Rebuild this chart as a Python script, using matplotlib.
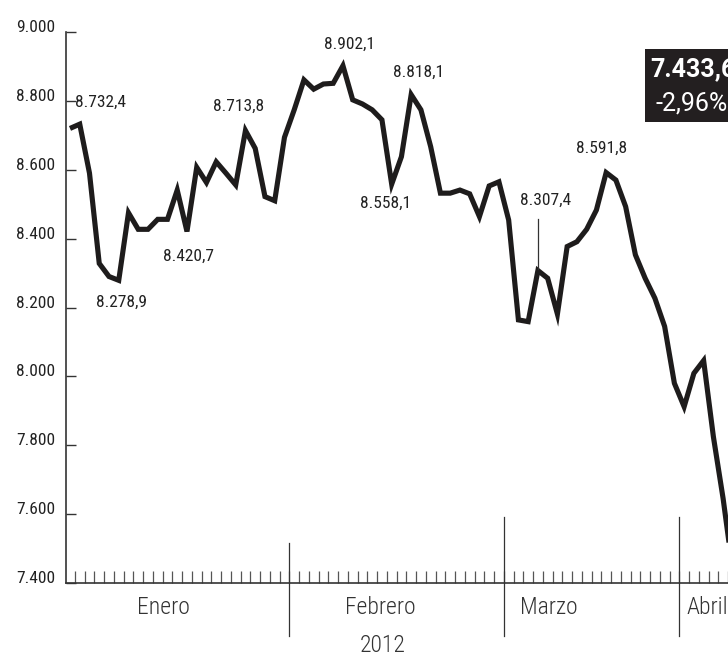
import matplotlib
matplotlib.use("Agg")
import matplotlib.pyplot as plt
from matplotlib.patches import Rectangle
import matplotlib.transforms as mtransforms

FAM = ['Roboto Condensed', 'Liberation Sans Narrow', 'DejaVu Sans Condensed', 'Roboto', 'DejaVu Sans']
BOXFAM = ['Roboto', 'DejaVu Sans']
plt.rcParams['font.family'] = FAM

# ---------------- data ----------------
values = [8720, 8732.4, 8590, 8328, 8290, 8278.9, 8475, 8427, 8427, 8456, 8456, 8541,
          8420.7, 8607, 8563, 8623, 8590, 8556, 8713.8, 8662, 8522, 8510, 8694, 8774,
          8861, 8834, 8849, 8851, 8902.1, 8803, 8791, 8774, 8745, 8558.1, 8638, 8818.1,
          8774, 8667, 8532, 8532, 8541, 8530, 8464, 8553, 8565, 8454, 8164, 8159,
          8307.4, 8285, 8181, 8377, 8391, 8427, 8483, 8591.8, 8570, 8493, 8353, 8285,
          8227, 8145, 7980, 7912, 8009, 8046, 7825, 7645, 7433.6]
months = ['Enero', 'Febrero', 'Marzo', 'Abril']
month_breaks = [22.5, 44.5, 62.5]
year_label = '2012'
y_ticks = [7400, 7600, 7800, 8000, 8200, 8400, 8600, 8800, 9000]
y_ticklabels = ['7.400', '7.600', '7.800', '8.000', '8.200', '8.400', '8.600', '8.800', '9.000']
annot_idx = [1, 5, 12, 18, 28, 33, 35, 48, 55]
annot_txt = ['8.732,4', '8.278,9', '8.420,7', '8.713,8', '8.902,1', '8.558,1', '8.818,1', '8.307,4', '8.591,8']
last_value = '7.433,6'
last_change = '-2,96%'

# ---------------- figure ----------------
W, H = 728, 657
fig = plt.figure(figsize=(W / 100, H / 100), dpi=100)
ax = fig.add_axes([66 / W, (H - 583) / H, (W - 66) / W, 551 / H])

x = list(range(len(values)))
ax.plot(x, values, color='#1e1c1c', lw=3.7, solid_joinstyle='miter', solid_capstyle='butt', zorder=5)

ax.set_xlim(-0.41, 67.28)
ax.set_ylim(7400, 9000)

for s in ['top', 'right']:
    ax.spines[s].set_visible(False)
for s in ['left', 'bottom']:
    ax.spines[s].set_color('#333333')
    ax.spines[s].set_linewidth(1.2)

ax.set_yticks(y_ticks)
ax.set_yticklabels(y_ticklabels)
ax.tick_params(axis='y', direction='in', length=7.2, width=1.0, color='#333333',
               pad=8, labelsize=12.5, labelcolor='#222222')
for lab in ax.get_yticklabels():
    lab.set_va('baseline')

xt = [i + 0.5 for i in range(0, 68)]
ax.set_xticks(xt)
ax.set_xticklabels([])
ax.tick_params(axis='x', direction='in', length=9, width=0.9, color='#555555')

# month dividers
trans = mtransforms.blended_transform_factory(ax.transData, ax.transAxes)
div_top = [0.0726, 0.1198, 0.1198]
for b, t in zip(month_breaks, div_top):
    ax.plot([b, b], [-0.0962, t], transform=trans, color='#333333', lw=0.9, clip_on=False, zorder=6)

# annotations (offsets in pixels)
offsets = [(21, 22), (2.7, -22), (2, -25), (-6.7, 24), (7, 21), (-5.7, -19), (7.3, 22), (7.4, 70), (-4.3, 24)]
for i, t, (dx, dy) in zip(annot_idx, annot_txt, offsets):
    ax.annotate(t, (i, values[i]), xytext=(dx, dy), textcoords='offset pixels',
                ha='center', va='center', fontsize=12.5, color='#222222', zorder=7)

# leader line for 8.307,4
li = annot_idx[7]
ax.plot([li, li], [values[li] + 5, values[li] + 150], color='#333333', lw=0.9, zorder=6)

# month & year labels
MFS = 17
fig.text(163 / W, (H - 608) / H, months[0], ha='center', va='center', fontsize=MFS,
         color='#333333', fontweight='light')
fig.text(380 / W, (H - 608) / H, months[1], ha='center', va='center', fontsize=MFS,
         color='#333333', fontweight='light')
fig.text(520 / W, (H - 608) / H, months[2], ha='left', va='center', fontsize=MFS,
         color='#333333', fontweight='light')
fig.text(686 / W, (H - 608) / H, months[3], ha='left', va='center', fontsize=MFS,
         color='#333333', fontweight='light')
fig.text(382.5 / W, (H - 646) / H, year_label, ha='center', va='center', fontsize=MFS,
         color='#333333', fontweight='light')

# last value box
fig.patches.append(Rectangle((645 / W, (H - 122) / H), 120 / W, 73 / H,
                             transform=fig.transFigure, facecolor='#231f20',
                             edgecolor='none', zorder=10))
fig.text(650 / W, (H - 69) / H, last_value, ha='left', va='center', fontsize=18,
         color='white', fontweight='bold', family=BOXFAM, zorder=11)
fig.text(655 / W, (H - 103) / H, last_change, ha='left', va='center', fontsize=18,
         color='white', family=BOXFAM, zorder=11)

fig.savefig('out.png', dpi=100, facecolor='white')
